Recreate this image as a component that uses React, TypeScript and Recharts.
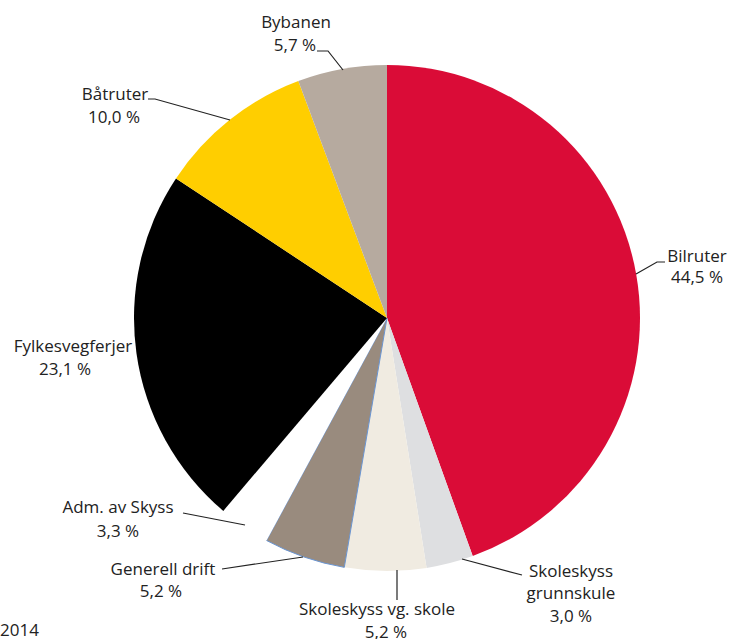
import React from 'react';
import { PieChart, Pie, Cell } from 'recharts';

// Andel av kostnader per område, 2014
const names = [
  'Bilruter',
  'Skoleskyss grunnskule',
  'Skoleskyss vg. skole',
  'Generell drift',
  'Adm. av Skyss',
  'Fylkesvegferjer',
  'Båtruter',
  'Bybanen',
];
const shares = [44.5, 3.0, 5.2, 5.2, 3.3, 23.1, 10.0, 5.7];
const year = '2014';

const colors = ['#DA0C37', '#DEDFE1', '#F0EBE1', '#998B7E', '#FFFFFF', '#000000', '#FFCE00', '#B6AA9F'];

// label placement relative to pie centre: leader line points, text lines, text x, baselines
type LabelLayout = {
  line: [number, number][];
  lines: string[];
  dx: number[];
  dy: number[];
};

const labelLayout: LabelLayout[] = [
  { line: [[249, -44], [270, -56], [278, -56]], lines: ['Bilruter'], dx: [310, 310], dy: [-56, -35] },
  { line: [[75, 241], [135, 257]], lines: ['Skoleskyss', 'grunnskule'], dx: [184, 184, 184], dy: [259, 281, 304] },
  { line: [[10, 252], [10, 282]], lines: ['Skoleskyss vg. skole'], dx: [-10, -1], dy: [297, 320] },
  { line: [[-84, 239], [-165, 251]], lines: ['Generell drift'], dx: [-224, -226], dy: [257, 279] },
  { line: [[-142, 207], [-204, 195]], lines: ['Adm. av Skyss'], dx: [-269, -269], dy: [195, 219] },
  { line: [], lines: ['Fylkesvegferjer'], dx: [-314, -322], dy: [34, 57] },
  { line: [[-157, -198], [-232, -219], [-239, -219]], lines: ['Båtruter'], dx: [-272, -273], dy: [-218, -195] },
  { line: [[-44, -248], [-59, -267], [-70, -267]], lines: ['Bybanen'], dx: [-91, -92], dy: [-290, -267] },
];

const data = names.map((name, i) => ({ name, value: shares[i] }));

const fmt = (v: number) => `${v.toFixed(1).replace('.', ',')} %`;

const FONT = '"Open Sans", sans-serif';

const renderLabel = (props: any) => {
  const { cx, cy, index, value } = props;
  const layout = labelLayout[index];
  const texts = [...layout.lines, fmt(value)];
  const pts = layout.line.map(([x, y]) => `${cx + x},${cy + y}`).join(' ');
  return (
    <g key={`lbl-${index}`}>
      {layout.line.length > 0 && (
        <polyline points={pts} fill="none" stroke="#222" strokeWidth={1.2} />
      )}
      {texts.map((t, j) => (
        <text
          key={j}
          x={cx + layout.dx[j]}
          y={cy + layout.dy[j]}
          textAnchor="middle"
          fontFamily={FONT}
          fontSize={17}
          fill="#222"
        >
          {t}
        </text>
      ))}
    </g>
  );
};

export default function App() {
  return (
    <div style={{ position: 'absolute', left: 0, top: 0, width: 729, height: 639, background: '#fff' }}>
      <PieChart width={729} height={639} margin={{ top: 0, right: 0, bottom: 0, left: 0 }}>
        <Pie
          data={data}
          dataKey="value"
          nameKey="name"
          cx={387}
          cy={318}
          outerRadius={253}
          startAngle={90}
          endAngle={-270}
          stroke="none"
          label={renderLabel}
          labelLine={false}
          isAnimationActive={false}
        >
          {data.map((d, i) => (
            <Cell
              key={d.name}
              fill={colors[i]}
              stroke={d.name === 'Generell drift' ? '#6A95D2' : 'none'}
              strokeWidth={d.name === 'Generell drift' ? 1 : 0}
            />
          ))}
        </Pie>
      </PieChart>
      <svg width={729} height={639} style={{ position: 'absolute', left: 0, top: 0, pointerEvents: 'none' }}>
        <text x={0} y={636} fontFamily={FONT} fontSize={17} fill="#222">
          {year}
        </text>
      </svg>
    </div>
  );
}
